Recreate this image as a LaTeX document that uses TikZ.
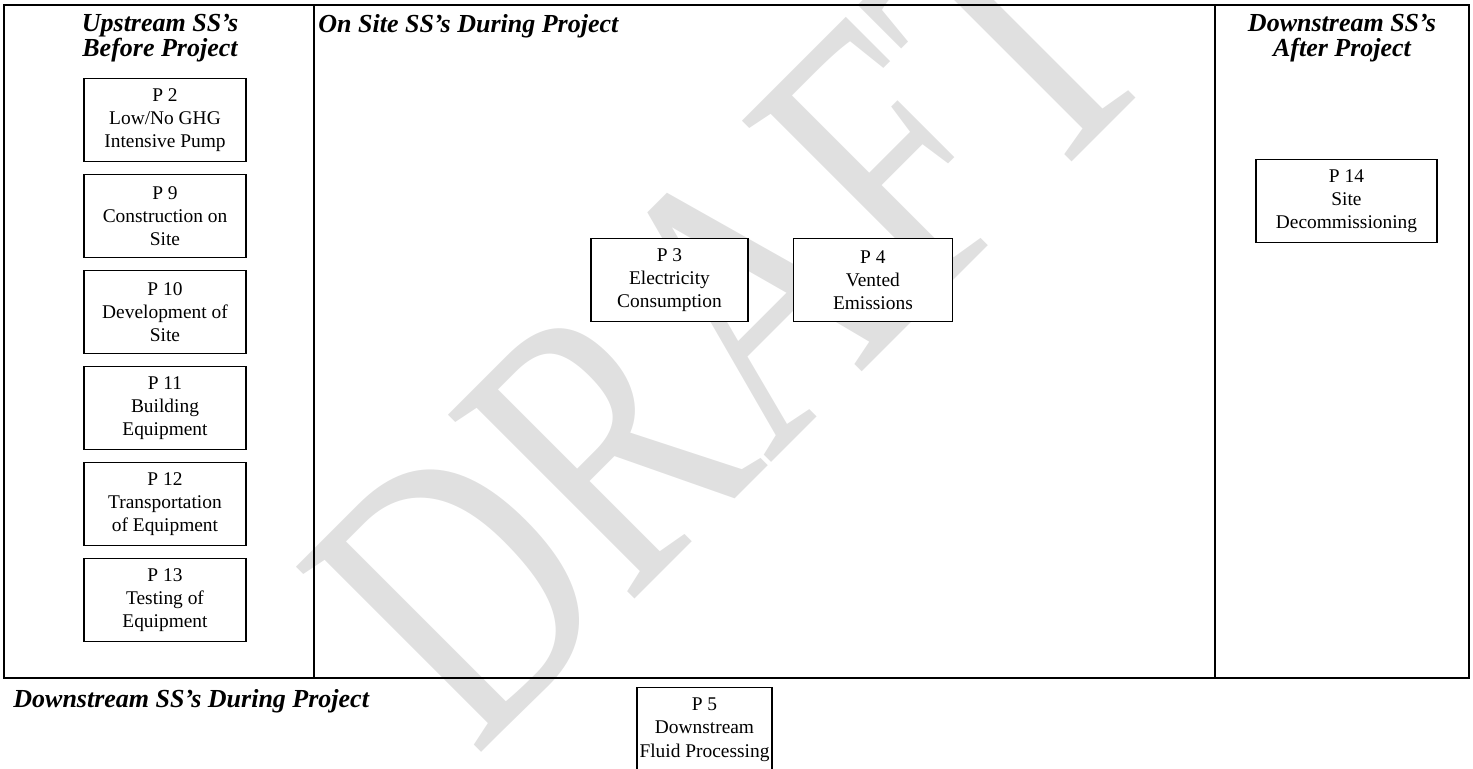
\documentclass[tikz,border=0pt]{standalone}
\usepackage{fontspec}
\setmainfont{Liberation Serif}
\usetikzlibrary{positioning}
\definecolor{draftgray}{RGB}{224,224,224}

\begin{document}
\begin{tikzpicture}[x=0.5pt,y=-0.5pt,
		ssbox/.style={draw,line width=0.7pt,fill=white,align=center,
			minimum height=41.3pt,inner sep=0pt,
			font=\fontsize{9.7}{11.6}\selectfont},
		sshead/.style={align=center,inner sep=0pt,
			font=\fontsize{13}{12.6}\selectfont\bfseries\itshape},
		frameline/.style={line width=1.2pt},
		node distance=6pt]
		\useasboundingbox (0,0) rectangle (1473,769);
		
		\node[rotate=45,xscale=0.748,anchor=base west,inner sep=0pt,text=draftgray,
			font=\fontsize{200}{200}\selectfont] (draft) at (475,759) {DRAFT};
		
		\draw[frameline] (4,5) rectangle (1469,678);
		\draw[frameline] (314,5) -- (314,678) (1215,5) -- (1215,678);
		
		\node[sshead,anchor=north] (uphead) at (160,14) {Upstream SS’s\\Before Project};
		\node[sshead,anchor=north west] (onhead) at (318,14) {On Site SS’s During Project};
		\node[sshead,anchor=north] (afterhead) at (1342,14) {Downstream SS’s\\After Project};
		\node[sshead,anchor=north west] (duringhead) at (13,689) {Downstream SS’s During Project};
		
		\node[ssbox,minimum width=81pt,anchor=north] (p2) at (165,78) {P 2\\Low/No GHG\\Intensive Pump};
		\node[ssbox,minimum width=81pt,below=of p2] (p9) {P 9\\Construction on\\Site};
		\node[ssbox,minimum width=81pt,below=of p9] (p10) {P 10\\Development of\\Site};
		\node[ssbox,minimum width=81pt,below=of p10] (p11) {P 11\\Building\\Equipment};
		\node[ssbox,minimum width=81pt,below=of p11] (p12) {P 12\\Transportation\\of Equipment};
		\node[ssbox,minimum width=81pt,below=of p12] (p13) {P 13\\Testing of\\Equipment};
		
		\node[ssbox,minimum width=78.5pt] (p3) at (669.5,280) {P 3\\Electricity\\Consumption};
		\node[ssbox,minimum width=79.5pt,right=22pt of p3] (p4) {P 4\\Vented\\Emissions};
		
		\node[ssbox,minimum width=90.5pt] (p14) at (1346.5,201) {P 14\\Site\\Decommissioning};
		
		\node[ssbox,minimum width=67.5pt,minimum height=42pt,anchor=north] (p5) at (704.5,687) {P 5\\Downstream\\Fluid Processing};
	\end{tikzpicture}
\end{document}
